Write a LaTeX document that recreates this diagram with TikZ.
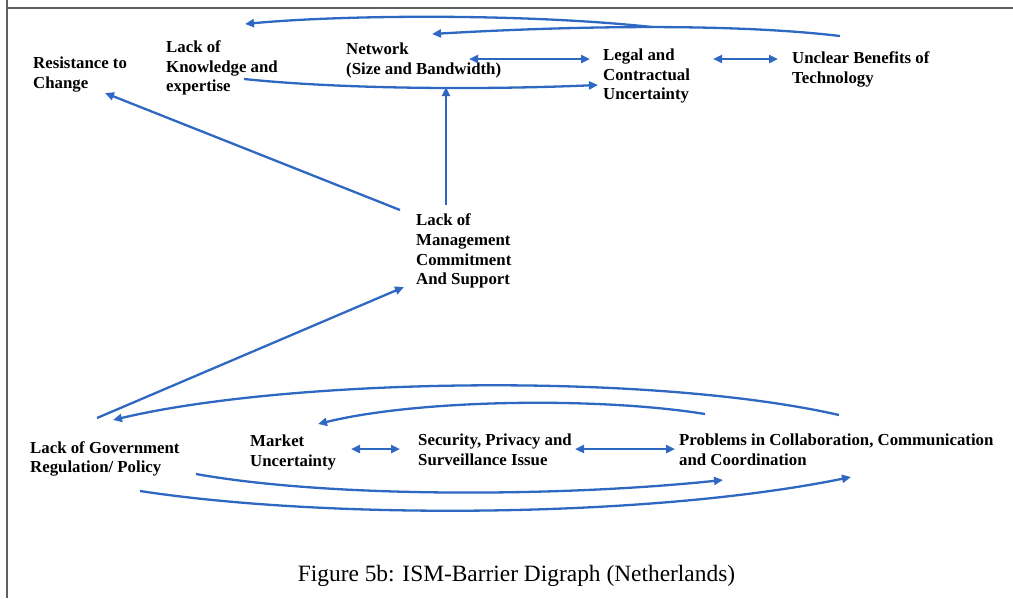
\documentclass[tikz,border=0pt]{standalone}
\usepackage{fontspec}
\setmainfont{Liberation Serif}
\usetikzlibrary{arrows.meta}
\definecolor{linkblue}{RGB}{46,104,194}
\definecolor{framegray}{RGB}{95,95,95}
\begin{document}
\begin{tikzpicture}[x=1pt,y=-1pt,
  barrier/.style={anchor=north west, inner sep=0pt, align=left,
    font=\fontsize{16.8}{19.8}\selectfont\bfseries},
  tip/.tip={Triangle[length=9pt,width=8pt]},
  link/.style={draw=linkblue, line width=2.3pt, -tip},
  twoway/.style={draw=linkblue, line width=2.3pt, tip-tip},
  frameline/.style={draw=framegray, line width=1.8pt}]
\useasboundingbox (0,0) rectangle (1013,598);

% page frame
\draw[frameline] (7,0) -- (7,598);
\draw[frameline] (7,8) -- (1013,8);

% barriers, top level
\node[barrier] (res)     at (33,56.5)   {Resistance to\\Change};
\node[barrier] (kn)      at (166,40.2)  {Lack of\\Knowledge and\\expertise};
\node[barrier] (net)     at (346,42.5)  {Network\\(Size and Bandwidth)};
\node[barrier] (legal)   at (603,48.5)  {Legal and\\Contractual\\Uncertainty};
\node[barrier] (unclear) at (792,51.5)  {Unclear Benefits of\\Technology};

% middle level
\node[barrier] (mgmt)    at (416,213.5) {Lack of\\Management\\Commitment\\And Support};

% bottom level
\node[barrier] (gov)     at (30,441)    {Lack of Government\\Regulation/ Policy};
\node[barrier] (market)  at (250,434.5) {Market\\Uncertainty};
\node[barrier] (sec)     at (418,433.5) {Security, Privacy and\\Surveillance Issue};
\node[barrier] (prob)    at (679,433.5) {Problems in Collaboration, Communication\\and Coordination};

\node[anchor=base, inner sep=0pt, font=\fontsize{23.4}{27}\selectfont] (cap) at (516.5,581.5)
  {Figure 5b: ISM-Barrier Digraph (Netherlands)};

% connector end points
\coordinate (legal-a)   at (652,27);
\coordinate (kn-in)     at (245,24);
\coordinate (unclear-a) at (840,36);
\coordinate (net-in)    at (432,34);
\coordinate (net-r)     at (469,59);
\coordinate (legal-l)   at (590,59);
\coordinate (legal-r)   at (713,59);
\coordinate (unclear-l) at (778,59);
\coordinate (kn-out)    at (244,79);
\coordinate (legal-in)  at (598,85);
\coordinate (mgmt-up)   at (446,205);
\coordinate (net-below) at (446,87);
\coordinate (mgmt-l)    at (400,210);
\coordinate (res-in)    at (105,93);
\coordinate (gov-up)    at (97,418);
\coordinate (mgmt-in)   at (404,287);
\coordinate (prob-a)    at (839,415);
\coordinate (gov-in)    at (113,420);
\coordinate (prob-b)    at (705,414);
\coordinate (market-in) at (318,424);
\coordinate (market-r)  at (351,449);
\coordinate (sec-l)     at (400,449);
\coordinate (sec-r)     at (575,449);
\coordinate (prob-l)    at (675,449);
\coordinate (gov-out1)  at (196,474);
\coordinate (prob-in1)  at (723,480);
\coordinate (gov-out2)  at (140,491);
\coordinate (prob-in2)  at (851,477);

% top level links
\draw[link] (legal-a) .. controls (520,13) and (340,15) .. (kn-in);
\draw[link] (unclear-a) .. controls (730,23) and (570,26) .. (net-in);
\draw[twoway] (net-r) -- (legal-l);
\draw[twoway] (legal-r) -- (unclear-l);
\draw[link] (kn-out) .. controls (340,89) and (480,90) .. (legal-in);

% management commitment
\draw[link] (mgmt-up) -- (net-below);
\draw[link] (mgmt-l) -- (res-in);
\draw[link] (gov-up) -- (mgmt-in);

% bottom level links
\draw[link] (prob-a) .. controls (650,372) and (290,378) .. (gov-in);
\draw[link] (prob-b) .. controls (600,397) and (420,399) .. (market-in);
\draw[twoway] (market-r) -- (sec-l);
\draw[twoway] (sec-r) -- (prob-l);
\draw[link] (gov-out1) .. controls (330,498) and (560,497) .. (prob-in1);
\draw[link] (gov-out2) .. controls (330,520) and (650,518) .. (prob-in2);
\end{tikzpicture}
\end{document}
